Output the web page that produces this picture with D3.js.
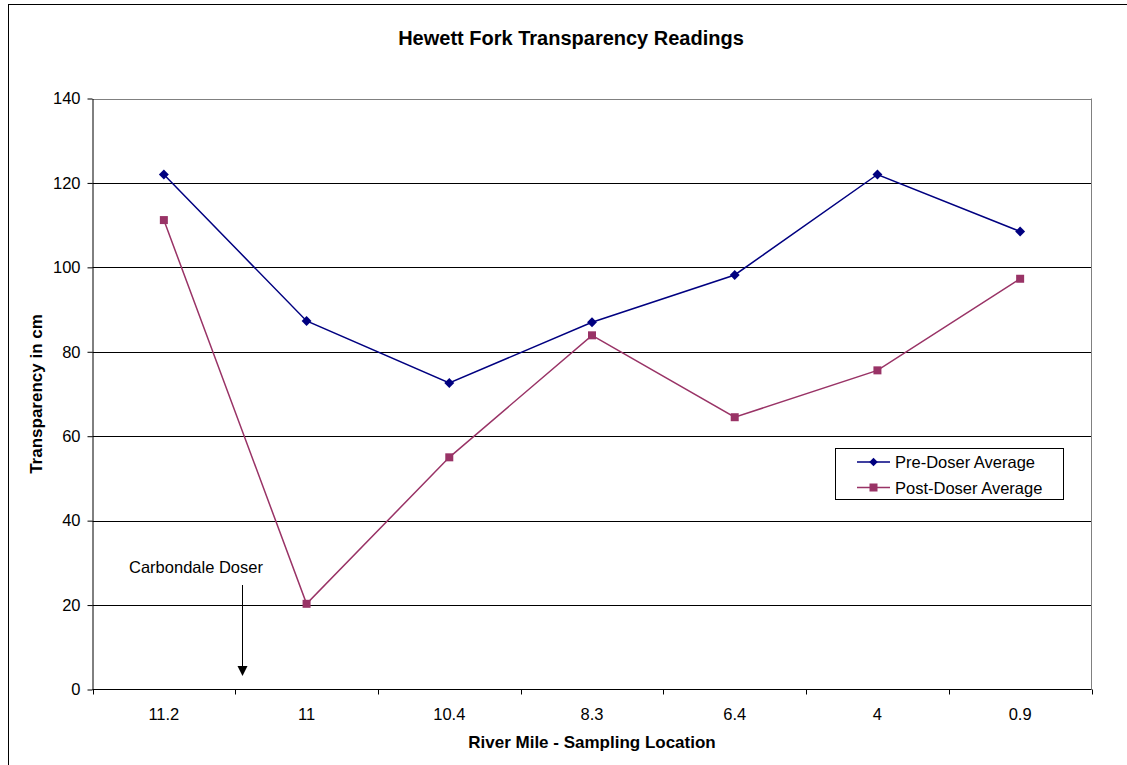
<!DOCTYPE html>
<html><head><meta charset="utf-8">
<script src="https://cdn.jsdelivr.net/npm/d3@7"></script>
<style>body{margin:0;background:#fff}svg{display:block;font-family:Arial,"Liberation Sans",sans-serif}</style>
</head><body>
<svg id="c" width="1127" height="765"></svg>
<script>
const categories = ["11.2","11","10.4","8.3","6.4","4","0.9"];
const preDoser = [122.0, 87.3, 72.6, 87.0, 98.2, 122.0, 108.5];
const postDoser = [111.2, 20.3, 55.0, 83.9, 64.5, 75.6, 97.3];
const yTicks = [0,20,40,60,80,100,120,140];
const seriesNames = ["Pre-Doser Average","Post-Doser Average"];

const svg = d3.select("#c");
const L=92.5, R=1091.5, T=98.5, B=689.5;
svg.append("rect").attr("x",8.5).attr("y",4.5).attr("width",1130).attr("height",780).attr("fill","none").attr("stroke","#000").attr("stroke-width",1);

const x = d3.scaleBand().domain(categories).range([L,R]);
const y = d3.scaleLinear().domain([0,140]).range([B,T]);

svg.append("g").selectAll("line").data(yTicks.filter(d=>d>0)).join("line")
 .attr("x1",L).attr("x2",R).attr("y1",d=>Math.round(y(d))+0.5).attr("y2",d=>Math.round(y(d))+0.5)
 .attr("stroke",d=>d===140?"#808080":"#000").attr("stroke-width",1);
svg.append("line").attr("x1",R).attr("x2",R).attr("y1",T).attr("y2",B).attr("stroke","#808080");

const ya = svg.append("g").attr("transform",`translate(${L},0)`)
 .call(d3.axisLeft(y).tickValues(yTicks).tickSize(5).tickSizeOuter(0));
ya.attr("font-size",null).attr("font-family",null);
ya.select(".domain").attr("stroke","#000");
ya.selectAll("text").style("font-size","16.5px").attr("fill","#000").attr("dx","-4");

const xg = svg.append("g").attr("transform",`translate(0,${B})`);
xg.append("line").attr("x1",L).attr("x2",R).attr("stroke","#000");
const bounds = categories.map((c)=>x(c)).concat([R]);
xg.selectAll("line.t").data(bounds).join("line").attr("class","t")
 .attr("x1",d=>Math.round(d)+0.5).attr("x2",d=>Math.round(d)+0.5).attr("y1",0).attr("y2",5).attr("stroke","#000");
xg.selectAll("text").data(categories).join("text")
 .attr("x",d=>x(d)+x.bandwidth()/2).attr("y",30).attr("text-anchor","middle").style("font-size","16.5px").text(d=>d);

const line = d3.line().x((d,i)=>x(categories[i])+x.bandwidth()/2).y(d=>y(d));
const preC="#000080", postC="#993366";
svg.append("path").datum(preDoser).attr("d",line).attr("fill","none").attr("stroke",preC).attr("stroke-width",1.5);
svg.append("path").datum(postDoser).attr("d",line).attr("fill","none").attr("stroke",postC).attr("stroke-width",1.5);
svg.append("g").selectAll("rect").data(preDoser).join("rect")
 .attr("width",7).attr("height",7)
 .attr("transform",(d,i)=>`translate(${x(categories[i])+x.bandwidth()/2},${y(d)}) rotate(45) translate(-3.5,-3.5)`)
 .attr("fill",preC);
svg.append("g").selectAll("rect").data(postDoser).join("rect")
 .attr("x",(d,i)=>x(categories[i])+x.bandwidth()/2-4).attr("y",d=>y(d)-4).attr("width",8).attr("height",8)
 .attr("fill",postC);

svg.append("text").attr("x",571).attr("y",45).attr("text-anchor","middle").attr("font-weight","bold").style("font-size","20px").text("Hewett Fork Transparency Readings");
svg.append("text").attr("transform","translate(42,394) rotate(-90)").attr("text-anchor","middle").attr("font-weight","bold").style("font-size","17px").text("Transparency in cm");
svg.append("text").attr("x",592).attr("y",748).attr("text-anchor","middle").attr("font-weight","bold").style("font-size","17px").text("River Mile - Sampling Location");

svg.append("text").attr("x",196).attr("y",573).attr("text-anchor","middle").style("font-size","16.5px").text("Carbondale Doser");
svg.append("line").attr("x1",242.5).attr("x2",242.5).attr("y1",585).attr("y2",668).attr("stroke","#000");
svg.append("path").attr("d","M237.5,666 L247.5,666 L242.5,676 Z").attr("fill","#000");

const lg = svg.append("g");
lg.append("rect").attr("x",835.5).attr("y",448.5).attr("width",228).attr("height",51).attr("fill","#fff").attr("stroke","#000");
const cols=[preC,postC];
seriesNames.forEach((n,i)=>{
  const yy = 462 + i*25.5;
  lg.append("line").attr("x1",857).attr("x2",890).attr("y1",yy).attr("y2",yy).attr("stroke",cols[i]).attr("stroke-width",1.5);
  if(i===0) lg.append("rect").attr("width",6).attr("height",6).attr("transform",`translate(873.5,${yy}) rotate(45) translate(-3,-3)`).attr("fill",cols[i]);
  else lg.append("rect").attr("x",869.5).attr("y",yy-4).attr("width",8).attr("height",8).attr("fill",cols[i]);
  lg.append("text").attr("x",895).attr("y",yy+6).style("font-size","16.5px").text(n);
});
</script>
</body></html>
